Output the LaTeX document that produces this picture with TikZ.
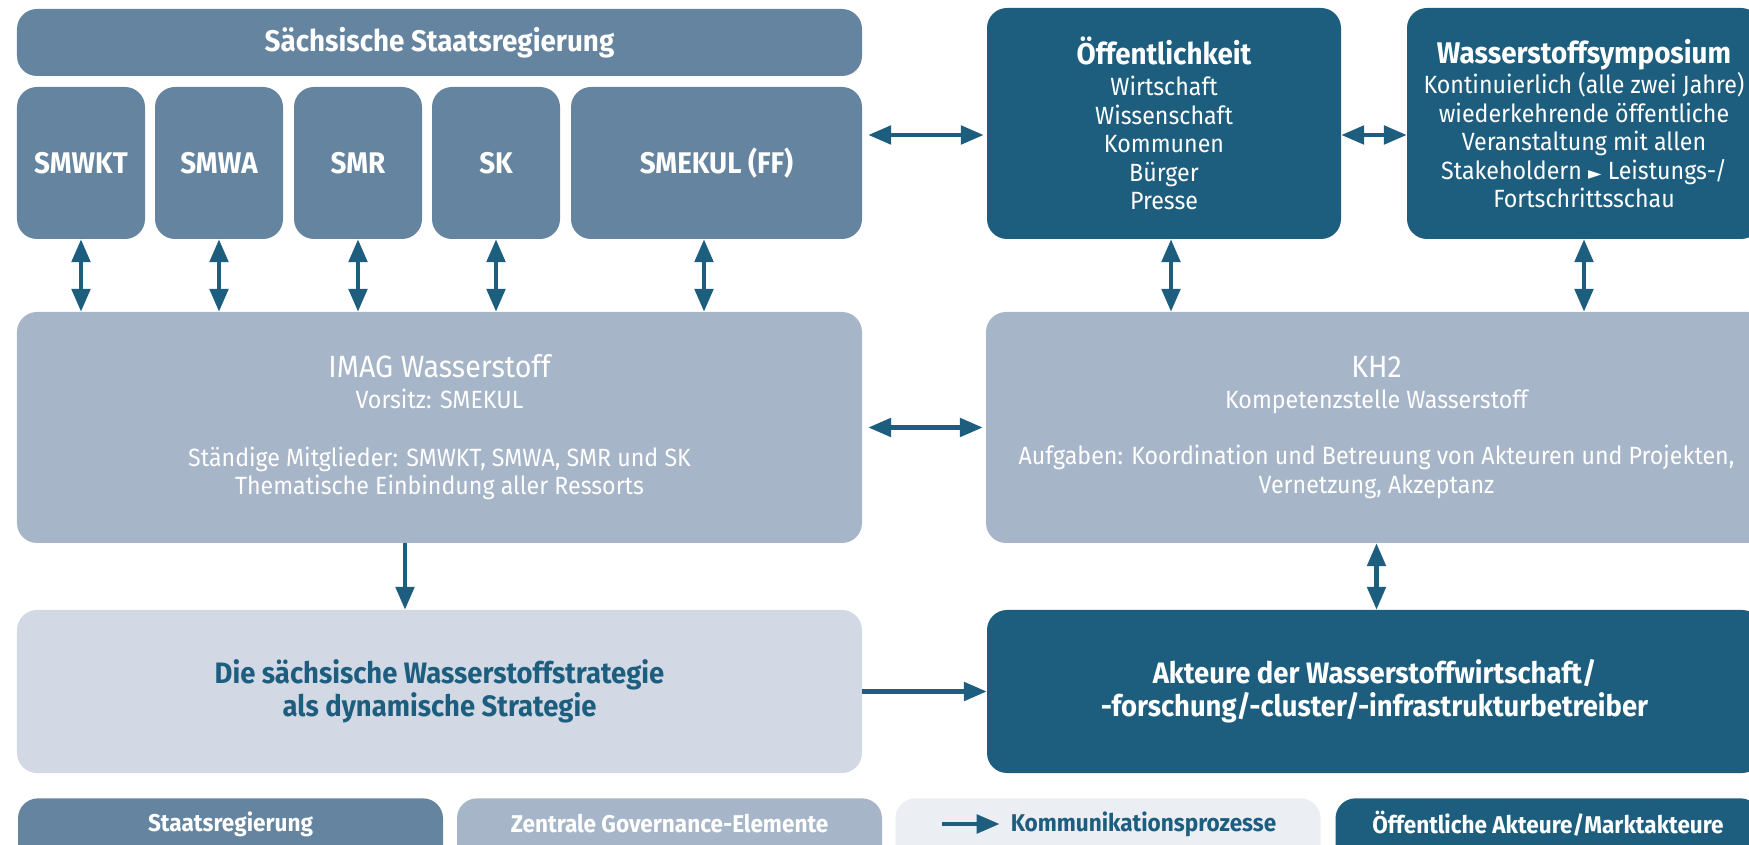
\documentclass[tikz,border=0pt]{standalone}
\usepackage{fontspec}
\setmainfont{Fira Sans}[FakeStretch=0.93]
\newfontfamily\symfont{DejaVu Sans}
\usetikzlibrary{arrows.meta}
\definecolor{staatcol}{HTML}{64849F}
\definecolor{govcol}{HTML}{A7B5C8}
\definecolor{stratcol}{HTML}{D2D9E4}
\definecolor{darkcol}{HTML}{1D5E7F}
\definecolor{commcol}{HTML}{EBEEF3}
\tikzset{
  box/.style={rounded corners=0.4cm, inner sep=0pt, align=center, text=white,
    font=\fontsize{14.2}{16.2}\selectfont},
  staatbox/.style={box, fill=staatcol},
  govbox/.style={box, fill=govcol},
  darkbox/.style={box, fill=darkcol},
  stratbox/.style={box, fill=stratcol, text=darkcol},
  legbox/.style={rounded corners=0.4cm, inner sep=0pt, anchor=north,
    minimum width=8.5cm, minimum height=1.5cm},
  legtext/.style={text=white, font=\bfseries\fontsize{13.8}{16}\selectfont},
  headfont/.style={font=\bfseries\fontsize{17}{19}\selectfont},
  biarrow/.style={draw=darkcol, line width=2.3pt,
    {Triangle[length=13pt,width=10.5pt]}-{Triangle[length=13pt,width=10.5pt]}},
  onearrow/.style={draw=darkcol, line width=2.3pt,
    -{Triangle[length=13pt,width=10.5pt]}},
}
\begin{document}
\begin{tikzpicture}
        \useasboundingbox (0,0) rectangle (34.98,16.88);
        \node[staatbox, headfont, minimum width=16.9cm, minimum height=1.34cm] (staat) at (8.79,16.03) {Sächsische Staatsregierung};
        \node[staatbox, headfont, minimum width=2.56cm, minimum height=3.04cm] (smwkt) at (1.62,13.62) {SMWKT};
        \node[staatbox, headfont, minimum width=2.56cm, minimum height=3.04cm] (smwa) at (4.38,13.62) {SMWA};
        \node[staatbox, headfont, minimum width=2.56cm, minimum height=3.04cm] (smr) at (7.16,13.62) {SMR};
        \node[staatbox, headfont, minimum width=2.56cm, minimum height=3.04cm] (sk) at (9.92,13.62) {SK};
        \node[staatbox, headfont, minimum width=5.82cm, minimum height=3.04cm] (smekul) at (14.33,13.62) {SMEKUL (FF)};
        \node[darkbox, minimum width=7.08cm, minimum height=4.62cm] (oeff) at (23.28,14.41)
            {{\bfseries\fontsize{17}{19}\selectfont Öffentlichkeit}\\[1.4pt]
             Wirtschaft\\ Wissenschaft\\ Kommunen\\ Bürger\\ Presse};
        \node[darkbox, minimum width=7.08cm, minimum height=4.62cm] (symp) at (31.68,14.41)
            {{\bfseries\fontsize{17}{19}\selectfont Wasserstoffsymposium}\\[1.4pt]
             Kontinuierlich (alle zwei Jahre)\\ wiederkehrende öffentliche\\ Veranstaltung mit allen\\
             Stakeholdern {\symfont\fontsize{10}{10}\selectfont ►} Leistungs-/\\ Fortschrittsschau};
        \node[govbox, minimum width=16.9cm, minimum height=4.62cm] (imag) at (8.79,8.33)
            {{\fontsize{17.5}{19}\selectfont IMAG Wasserstoff}\\[1pt]
             Vorsitz: SMEKUL\\[17pt]
             Ständige Mitglieder: SMWKT, SMWA, SMR und SK\\ Thematische Einbindung aller Ressorts};
        \node[govbox, minimum width=15.62cm, minimum height=4.62cm] (kh2) at (27.53,8.33)
            {{\fontsize{17.5}{19}\selectfont KH2}\\[1pt]
             Kompetenzstelle Wasserstoff\\[16pt]
             Aufgaben: Koordination und Betreuung von Akteuren und Projekten,\\ Vernetzung, Akzeptanz};
        \node[stratbox, minimum width=16.9cm, minimum height=3.26cm, font=\bfseries\fontsize{16.8}{18.8}\selectfont] (strat) at (8.79,3.05)
            {Die sächsische Wasserstoffstrategie\\ als dynamische Strategie};
        \node[darkbox, minimum width=15.5cm, minimum height=3.26cm, font=\bfseries\fontsize{16.8}{18.8}\selectfont] (akt) at (27.49,3.05)
            {Akteure der Wasserstoffwirtschaft/\\ -forschung/-cluster/-infrastrukturbetreiber};
        \node[legbox, fill=staatcol] (leg1) at (4.61,0.92) {};
        \node[legbox, fill=govcol] (leg2) at (13.39,0.92) {};
        \node[legbox, fill=commcol] (leg3) at (22.16,0.92) {};
        \node[legbox, fill=darkcol] (leg4) at (30.96,0.92) {};
        \node[legtext] (leg1t) at (4.61,0.40) {Staatsregierung};
        \node[legtext] (leg2t) at (13.39,0.40) {Zentrale Governance-Elemente};
        \node[legtext, text=darkcol] (leg3t) at (22.87,0.40) {Kommunikationsprozesse};
        \node[legtext] (leg4t) at (30.96,0.40) {Öffentliche Akteure/Marktakteure};
        \coordinate (leg3a) at (18.84,0.40);
        \draw[biarrow] (smwkt.south) -- (smwkt.south |- imag.north);
        \draw[biarrow] (smwa.south) -- (smwa.south |- imag.north);
        \draw[biarrow] (smr.south) -- (smr.south |- imag.north);
        \draw[biarrow] (sk.south) -- (sk.south |- imag.north);
        \draw[biarrow] ([xshift=-0.25cm]smekul.south) -- ([xshift=-0.25cm]smekul.south |- imag.north);
        \draw[biarrow, shorten <=0.12cm, shorten >=0.06cm] ([yshift=0.56cm]smekul.east) -- ([yshift=0.56cm]smekul.east -| oeff.west);
        \draw[biarrow] ([yshift=-0.23cm]oeff.east) -- ([yshift=-0.23cm]oeff.east -| symp.west);
        \draw[biarrow] ([xshift=0.14cm]oeff.south) -- ([xshift=0.14cm]oeff.south |- kh2.north);
        \draw[biarrow] (symp.south) -- (symp.south |- kh2.north);
        \draw[biarrow, shorten <=0.12cm, shorten >=0.06cm] (imag.east) -- (kh2.west);
        \draw[onearrow] ([xshift=-0.69cm]imag.south) -- ([xshift=-0.69cm]imag.south |- strat.north);
        \draw[biarrow] (kh2.south) -- (kh2.south |- akt.north);
        \draw[onearrow] (strat.east) -- (akt.west);
        \draw[onearrow, shorten >=0.1cm] (leg3a) -- (leg3t.west);
\end{tikzpicture}
\end{document}
